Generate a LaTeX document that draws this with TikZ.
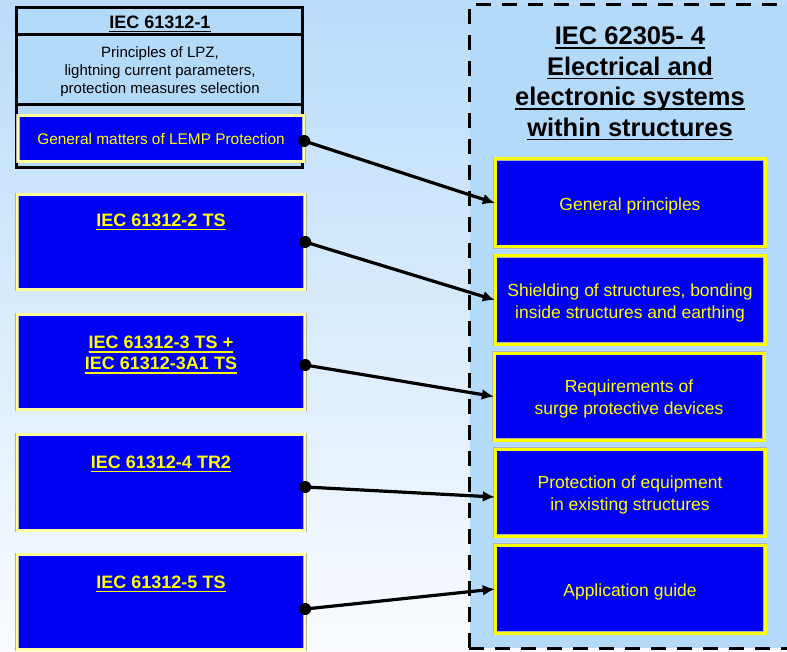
\documentclass[tikz,border=0pt]{standalone}
\usepackage{fontspec}
\setmainfont{Liberation Sans}
\usetikzlibrary{positioning, calc, arrows.meta, decorations.markings}
\newcommand{\ulbar}[1]{\setbox0\hbox{#1}\rlap{\vrule height -2.4pt depth 4pt width \wd0}\box0}
\newcommand{\lowered}[1]{\raisebox{-3pt}[\height][\depth]{#1}}
\definecolor{boxblue}{RGB}{0,0,245}
\definecolor{palebar}{RGB}{255,255,160}
\definecolor{goldbar}{RGB}{255,255,0}
\definecolor{skyfill}{RGB}{180,218,250}
\definecolor{bgtop}{RGB}{186,220,250}
\definecolor{bgbottom}{RGB}{250,252,255}
\tikzstyle{Link} = [
%dot at the start, head at the end:
line width=3.2pt,
decoration={
markings,
mark=at position 0 with {
\fill circle (6pt);
}
},
-{Latex[length=12pt, width=11pt]}, postaction = {decorate}
]

\begin{document}
\begin{tikzpicture}[x=1pt, y=-1pt,
				stdbox/.style = {rectangle, fill=boxblue, draw=gray!60, double=palebar, double distance=2.6pt, line width=0.4pt, minimum width=288pt, inner sep=0pt},
				partbox/.style = {rectangle, fill=boxblue, draw=gray!60, double=goldbar, double distance=3pt, line width=0.4pt, minimum width=270pt, text=goldbar, align=center, font=\fontsize{17.5}{22}\selectfont},
				stdtitle/.style = {text=goldbar, align=center, inner sep=0pt, font=\bfseries\fontsize{18}{21}\selectfont},
				cell/.style = {rectangle, draw=black, line width=3pt, fill=skyfill, minimum width=286pt, inner sep=0pt},
			]
			\useasboundingbox (0,0) rectangle (787,652);
			\shade[top color=bgtop, bottom color=bgbottom] (0,0) rectangle (787,652);
			\fill[skyfill] (470,5) rectangle (787,648);
			\draw[line width=3pt, dash pattern=on 15pt off 11pt] (469,648) -- (469,5) -- (810,5);
			\draw[line width=3pt, dash pattern=on 15pt off 11pt] (469,648) -- (810,648);

			% IEC 61312-1 group
			\node[cell, minimum height=160pt](grp) at (159.5,87.5){};
			\node[cell, minimum height=27.5pt](grptop) at (159.5,21.25){};
			\node[cell, minimum height=70pt](grpmid) at (159.5,70){};
			\node[inner sep=0pt, font=\bfseries\fontsize{18}{21}\selectfont](t1) at (160,24){\ulbar{IEC 61312-1}};
			\node[inner sep=0pt, align=center, font=\fontsize{15}{18}\selectfont](p1) at (160,72){Principles of LPZ,\\lightning current parameters,\\protection measures selection};
			\node[stdbox, minimum width=286pt, minimum height=46pt, text=goldbar, font=\fontsize{15.4}{18}\selectfont](lemp) at (161,138.5){General matters of LEMP Protection};

			% left parts
			\node[stdbox, minimum height=95pt](l2) at (161,242){};
			\node[stdbox, minimum height=95pt](l3) at (161,362){};
			\node[stdbox, minimum height=96pt](l4) at (161,482.5){};
			\node[stdbox, minimum height=95pt](l5) at (161,602){};
			\node[stdtitle](t2) at (161,222){\ulbar{IEC 61312-2 TS}};
			\node[stdtitle](t3) at (161,355){\ulbar{IEC 61312-3 TS +}\\\ulbar{IEC 61312-3A1 TS}};
			\node[stdtitle](t4) at (161,464){\ulbar{IEC 61312-4 TR2}};
			\node[stdtitle](t5) at (161,584){\ulbar{IEC 61312-5 TS}};

			% IEC 62305-4 side
			\node[align=center, inner sep=0pt, font=\bfseries\fontsize{25.5}{30.5}\selectfont](hd) at (630,83.5){\ulbar{IEC 62305- 4}\\\ulbar{Electrical and}\\\ulbar{electronic systems}\\\ulbar{within structures}};
			\node[partbox, minimum height=88pt](r1) at (630,203){\lowered{General principles}};
			\node[partbox, minimum height=88pt](r2) at (630,300){\lowered{\begin{tabular}{@{}c@{}}Shielding of structures, bonding\\inside structures and earthing\end{tabular}}};
			\node[partbox, minimum height=87pt](r3) at (629,396.5){\lowered{\begin{tabular}{@{}c@{}}Requirements of\\surge protective devices\end{tabular}}};
			\node[partbox, minimum height=87pt](r4) at (630,492.5){\lowered{\begin{tabular}{@{}c@{}}Protection of equipment\\in existing structures\end{tabular}}};
			\node[partbox, minimum height=88pt](r5) at (630,589){\lowered{Application guide}};

			\draw[Link]([yshift=-2.5pt]lemp.east)--(r1.west);
			\draw[Link](l2.east)--(r2.west);
			\draw[Link]([yshift=-3pt]l3.east)--(r3.west);
			\draw[Link]([yshift=-4.5pt]l4.east)--([yshift=-4.5pt]r4.west);
			\draw[Link]([yshift=-7pt]l5.east)--(r5.west);

		\end{tikzpicture}
\end{document}
